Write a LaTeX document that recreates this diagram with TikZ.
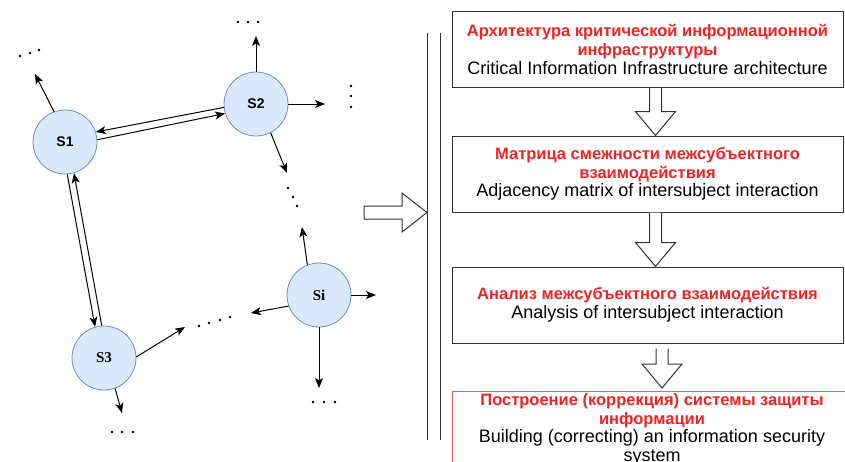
\documentclass[tikz,border=0pt]{standalone}
\usepackage{fontspec}
\setmainfont{Liberation Sans}
\newfontfamily\subjserif{Liberation Serif}
\usepackage{xcolor}
\usetikzlibrary{arrows.meta,calc}

\definecolor{nodefill}{HTML}{DAE8FC}
\definecolor{nodeline}{HTML}{6C8EBF}
\definecolor{textred}{HTML}{EE2424}
\definecolor{boxred}{HTML}{E06666}

\newcommand{\rutext}[1]{\textcolor{textred}{\fontsize{16.5}{18.7}\selectfont\bfseries #1}}
% hollow block arrow: from, to, x offset, top gap, tip gap
\newcommand{\blockdown}[5]{%
  \draw[hollow] ($(#1.south)+(#3-6,#4)$) -- ($(#1.south |- #2.north)+(#3-6,-#5-24)$)
    -- ($(#1.south |- #2.north)+(#3-20,-#5-24)$) -- ($(#1.south |- #2.north)+(#3,-#5)$)
    -- ($(#1.south |- #2.north)+(#3+20,-#5-24)$) -- ($(#1.south |- #2.north)+(#3+6,-#5-24)$)
    -- ($(#1.south)+(#3+6,#4)$);}

\tikzset{
  subject/.style={circle, draw=nodeline, fill=nodefill, line width=0.8pt,
    minimum size=64pt, inner sep=0pt, font=\bfseries\fontsize{14}{14}\selectfont},
  subjectserif/.style={subject, font=\subjserif\bfseries\fontsize{15}{15}\selectfont},
  link/.style={-{Stealth[length=10pt,width=8pt,inset=2.5pt]}, line width=1pt},
  stepbox/.style={draw=black!80, line width=1pt, minimum width=391pt,
    minimum height=76pt, align=center, inner sep=0pt,
    font=\fontsize{18}{18.7}\selectfont},
  hollow/.style={draw=black!80, line width=1pt, fill=white, line join=miter}
}

\begin{document}
\begin{tikzpicture}[x=1pt, y=-1pt]
    \useasboundingbox (0,0) rectangle (845,461);

    % subjects
    \node[subject] (S1) at (65,142) {S1};
    \node[subject] (S2) at (256,104) {S2};
    \node[subjectserif] (S3) at (104,358) {S3};
    \node[subjectserif] (Si) at (319,295) {Si};

    % mutual links
    \draw[link] (S2.186) -- (S1.18);
    \draw[link] (S1.4) -- (S2.197);
    \draw[link] (S1.-86) -- (S3.106);
    \draw[link] (S3.94) -- (S1.-74);

    % outgoing links
    \coordinate (s1up) at (35,74);
    \coordinate (s2up) at (256,36);
    \coordinate (s2right) at (325,104);
    \coordinate (s2down) at (287,173);
    \coordinate (s3right) at (185,327);
    \coordinate (s3down) at (122,413);
    \coordinate (siup) at (302,227);
    \coordinate (sileft) at (251,313);
    \coordinate (siright) at (376,295);
    \coordinate (sidown) at (319,388);
    \draw[link] (S1.110) -- (s1up);
    \draw[link] (S2.north) -- (s2up);
    \draw[link] (S2.east) -- (s2right);
    \draw[link] (S2.-63) -- (s2down);
    \draw[link] (S3.2) -- (s3right);
    \draw[link] (S3.-70) -- (s3down);
    \draw[link] (Si.111) -- (siup);
    \draw[link] (Si.200) -- (sileft);
    \draw[link] (Si.east) -- (siright);
    \draw[link] (Si.south) -- (sidown);

    % dots
    \foreach \p in {(20,56),(30,53),(39,50), (238,22),(248,22),(258,22),
        (351,86),(351,96),(351,107), (288,188),(293,197),(297,206),
        (199,326),(209,323),(220,320),(230,317), (112,432),(122,432),(133,432),
        (313,402),(324,402),(335,402)}
        \fill \p circle (1.3);

    % transition
    \draw[hollow] (364,206) -- (402,206) -- (402,193) -- (427,212.5)
        -- (402,232) -- (402,219) -- (364,219) -- cycle;
    \draw[line width=1pt, black!80] (427,33) -- (427,440);
    \draw[line width=1pt, black!80] (440,33) -- (440,440);

    % steps
    \node[stepbox] (arch) at (647.5,49.5) {\rutext{Архитектура критической информационной}\\
        \rutext{инфраструктуры}\\ Critical Information Infrastructure architecture};
    \node[stepbox] (adj) at (647.5,174) {\rutext{Матрица смежности межсубъектного}\\
        \rutext{взаимодействия}\\ Adjacency matrix of intersubject interaction};
    \node[stepbox] (anal) at (647.5,305) {\rutext{Анализ межсубъектного взаимодействия}\\
        Analysis of intersubject interaction};
    \node[stepbox, draw=boxred, minimum width=400pt] (build) at (652,429.5)
        {\rutext{Построение (коррекция) системы защиты}\\ \rutext{информации}\\
        Building (correcting) an information security\\ system};

    \blockdown{arch}{adj}{8}{0}{0}
    \blockdown{adj}{anal}{8}{0}{0}
    \blockdown{anal}{build}{14.5}{5}{3}
\end{tikzpicture}
\end{document}
